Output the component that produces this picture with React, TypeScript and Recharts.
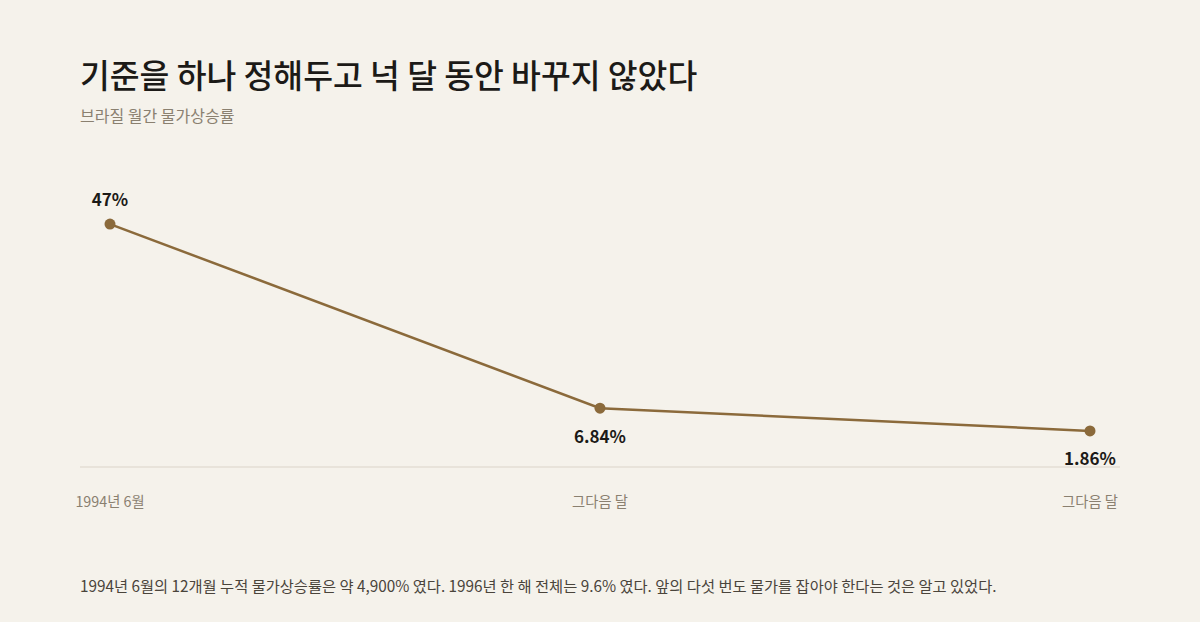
import React from "react";
import { LineChart, Line, XAxis, YAxis, LabelList } from "recharts";

const categories = ["1994년 6월", "그다음 달", "그다음 달"];
const inflation = [47, 6.84, 1.86];
const valueLabels = ["47%", "6.84%", "1.86%"];

const data = categories.map((c, i) => ({ label: c, idx: i, value: inflation[i], text: valueLabels[i] }));

const FONT = '"Noto Sans CJK KR", "Noto Sans", sans-serif';
const LINE_COLOR = "#8b6a3b";

const ValueLabel = (props: any) => {
  const { x, y, index } = props;
  const above = index === 0;
  return (
    <text
      x={x}
      y={above ? y - 26 : y + 27}
      textAnchor="middle"
      dominantBaseline="central"
      fontFamily={FONT}
      fontSize={17}
      fontWeight={700}
      fill="#1c1a17"
    >
      {valueLabels[index]}
    </text>
  );
};

export default function App() {
  return (
    <div
      style={{
        position: "absolute",
        left: 0,
        top: 0,
        width: 1200,
        height: 622,
        background: "#f5f2eb",
        fontFamily: FONT,
        overflow: "hidden",
      }}
    >
      <div style={{ position: "absolute", left: 0, top: 0 }}>
        <LineChart width={1200} height={622} data={data} margin={{ top: 192, right: 80, bottom: 115, left: 80 }}>
          <YAxis hide domain={[-6, 54]} type="number" />
          <XAxis
            dataKey="idx"
            type="category"
            padding={{ left: 30, right: 30 }}
            axisLine={{ stroke: "#e3ded4", strokeWidth: 1.5 }}
            tickLine={false}
            tickSize={6}
            tickMargin={24}
            height={40}
            tickFormatter={(v: any) => categories[v]}
            tick={{ fill: "#8a8070", fontSize: 14.3, fontFamily: FONT }}
            interval={0}
          />
          <Line
            dataKey="value"
            stroke={LINE_COLOR}
            strokeWidth={2.5}
            dot={{ r: 5.5, fill: LINE_COLOR, stroke: LINE_COLOR, strokeWidth: 0 }}
            activeDot={false}
            isAnimationActive={false}
          >
            <LabelList dataKey="text" content={<ValueLabel />} />
          </Line>
        </LineChart>
      </div>
      <div
        style={{
          position: "absolute",
          left: 80,
          top: 53,
          fontSize: 32.4,
          fontWeight: 500,
          color: "#1c1a17",
          lineHeight: "42px",
          whiteSpace: "nowrap",
        }}
      >
        기준을 하나 정해두고 넉 달 동안 바꾸지 않았다
      </div>
      <div
        style={{
          position: "absolute",
          left: 80,
          top: 104,
          fontSize: 16,
          color: "#8a8070",
          lineHeight: "22px",
          whiteSpace: "nowrap",
        }}
      >
        브라질 월간 물가상승률
      </div>
      <div
        style={{
          position: "absolute",
          left: 80,
          top: 574,
          fontSize: 15.3,
          color: "#4a443b",
          lineHeight: "22px",
          whiteSpace: "nowrap",
        }}
      >
        1994년 6월의 12개월 누적 물가상승률은 약 4,900% 였다. 1996년 한 해 전체는 9.6% 였다. 앞의 다섯 번도 물가를 잡아야 한다는 것은 알고 있었다.
      </div>
    </div>
  );
}
